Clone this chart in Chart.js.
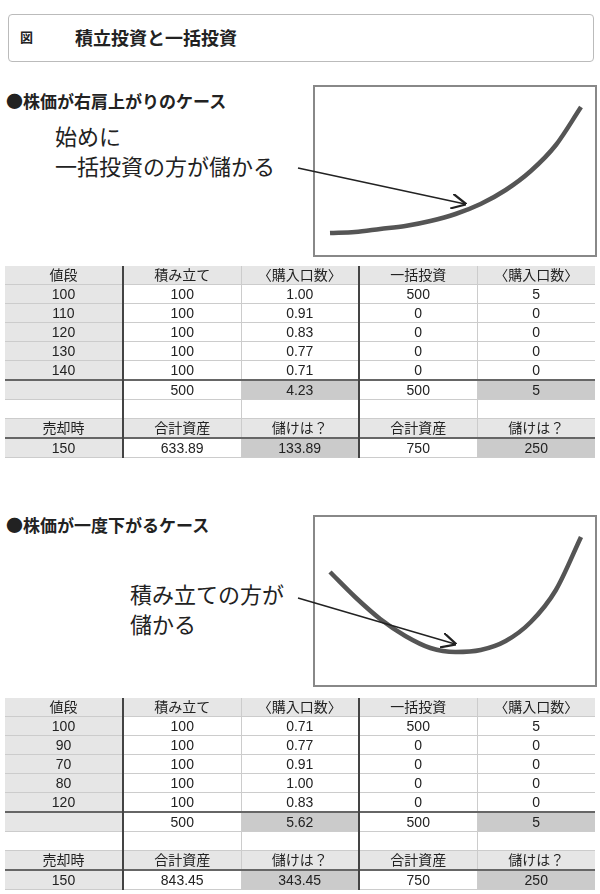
<!DOCTYPE html>
<html><head><meta charset="utf-8">
<script src="https://cdn.jsdelivr.net/npm/chart.js@4"></script>
<style>
body{margin:0;width:600px;height:894px;background:#fff;font-family:"Noto Sans CJK JP","Noto Sans",sans-serif;color:#222;position:relative;overflow:hidden}
.abs{position:absolute}
.hdr{left:8px;top:14px;width:584px;height:46px;border:1px solid #bbb;border-radius:4px;background:#fff}
.box{border:2px solid #888;background:#fff;width:280px;height:168px}
.head{font-size:17px;font-weight:bold}
.note{font-size:22px;line-height:30px}
table{border-collapse:collapse;width:590px;font-family:"Liberation Sans","Noto Sans CJK JP",sans-serif;font-size:14px;table-layout:fixed}
td{height:18px;line-height:17px;padding:0;text-align:center;border-bottom:1px solid #ccc;border-left:1px solid #ccc}
td:first-child{background:#e6e6e6;border-left:none}
td:nth-child(2),td:nth-child(4){border-left:2px solid #444}
.g td{background:#e6e6e6}
.d{background:#cbcbcb !important}
.s td{border-top:2px solid #666}
</style></head><body>
<div class="abs hdr"></div>
<div class="abs" style="left:20px;top:27px;font-size:13px;font-weight:bold">図</div>
<div class="abs" style="left:75px;top:24px;font-size:18px;font-weight:bold">積立投資と一括投資</div>

<div class="abs head" style="left:6px;top:88px">●株価が右肩上がりのケース</div>
<div class="abs box" style="left:313px;top:85px"><canvas id="c1"></canvas></div>
<div class="abs note" style="left:55px;top:120px">始めに<br>一括投資の方が儲かる</div>

<div class="abs head" style="left:6px;top:512px">●株価が一度下がるケース</div>
<div class="abs box" style="left:313px;top:515px"><canvas id="c2"></canvas></div>
<div class="abs note" style="left:130px;top:578px">積み立ての方が<br>儲かる</div>

<svg class="abs" style="left:0;top:0" width="600" height="894">
<defs><marker id="ah" markerWidth="10" markerHeight="10" refX="9" refY="5" orient="auto"><path d="M0,0 L10,5 L0,10" fill="none" stroke="#222" stroke-width="1.5"/></marker></defs>
<line x1="298" y1="168" x2="465" y2="204" stroke="#222" stroke-width="1.5" marker-end="url(#ah)"/>
<line x1="298" y1="598" x2="455" y2="644" stroke="#222" stroke-width="1.5" marker-end="url(#ah)"/>
</svg>

<div class="abs" style="left:5px;top:266px" id="t1"></div>
<div class="abs" style="left:5px;top:698px" id="t2"></div>

<script>
// curve shapes (0 = bottom of box)
const curveX = [0,1,2,3,4,5,6,7,8,9,10];
const curve1 = [22,23,26,29,34,41,51,65,84,110,148];
const curve2 = [113,88,66,49,37,33,35,44,63,95,148];

const headers = ["値段","積み立て","〈購入口数〉","一括投資","〈購入口数〉"];
const prices1 = [100,110,120,130,140];
const units1 = ["1.00","0.91","0.83","0.77","0.71"];
const lump1 = [500,0,0,0,0];
const lumpUnits1 = [5,0,0,0,0];
const totals1 = ["500","4.23","500","5"];
const sell1 = ["150","633.89","133.89","750","250"];

const prices2 = [100,90,70,80,120];
const units2 = ["0.71","0.77","0.91","1.00","0.83"];
const lump2 = [500,0,0,0,0];
const lumpUnits2 = [5,0,0,0,0];
const totals2 = ["500","5.62","500","5"];
const sell2 = ["150","843.45","343.45","750","250"];
const sellHeaders = ["売却時","合計資産","儲けは？","合計資産","儲けは？"];

function buildTable(id, prices, units, lump, lumpUnits, totals, sell) {
  let h = '<table><tr class="g">' + headers.map(t => `<td>${t}</td>`).join("") + "</tr>";
  prices.forEach((p, i) => {
    h += `<tr><td>${p}</td><td>100</td><td>${units[i]}</td><td>${lump[i]}</td><td>${lumpUnits[i]}</td></tr>`;
  });
  h += `<tr class="s"><td></td><td>${totals[0]}</td><td class="d">${totals[1]}</td><td>${totals[2]}</td><td class="d">${totals[3]}</td></tr>`;
  h += `<tr><td style="background:#fff"></td><td></td><td></td><td></td><td></td></tr>`;
  h += '<tr class="g">' + sellHeaders.map(t => `<td>${t}</td>`).join("") + "</tr>";
  h += `<tr class="s"><td>${sell[0]}</td><td>${sell[1]}</td><td class="d">${sell[2]}</td><td>${sell[3]}</td><td class="d">${sell[4]}</td></tr></table>`;
  document.getElementById(id).innerHTML = h;
}
buildTable("t1", prices1, units1, lump1, lumpUnits1, totals1, sell1);
buildTable("t2", prices2, units2, lump2, lumpUnits2, totals2, sell2);

function DrawCurve(canvasId, values) {
  new Chart(document.getElementById(canvasId), {
    type: "line",
    data: {
      labels: curveX,
      datasets: [{
        data: values,
        borderColor: "#555",
        borderWidth: 4.5,
        pointRadius: 0,
        cubicInterpolationMode: "monotone",
        fill: false,
      }],
    },
    options: {
      responsive: false,
      animation: false,
      layout: { padding: { left: 15, right: 14, top: 0, bottom: 0 } },
      scales: {
        x: { display: false },
        y: { display: false, min: 0, max: 168 },
      },
      plugins: { legend: { display: false }, tooltip: { enabled: false } },
    },
  });
}
document.getElementById("c1").width = 280; document.getElementById("c1").height = 168;
document.getElementById("c2").width = 280; document.getElementById("c2").height = 168;
DrawCurve("c1", curve1);
DrawCurve("c2", curve2);
</script>
</body></html>
